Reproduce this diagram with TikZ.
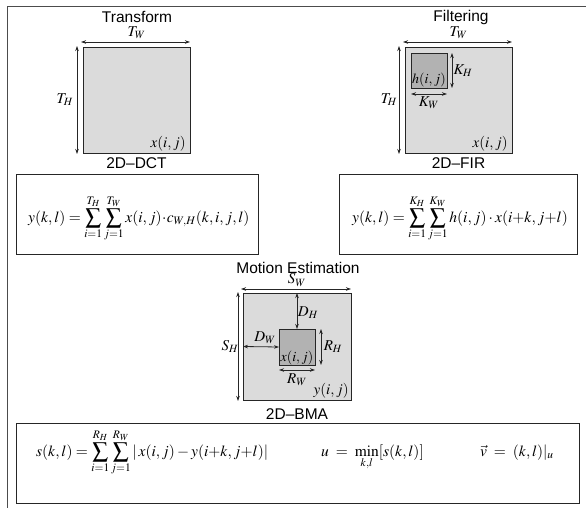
\documentclass[tikz,border=0pt]{standalone}
\usepackage{mathptmx}
\usepackage[no-math]{fontspec}
\setmainfont{Liberation Sans}
\usetikzlibrary{arrows.meta}

\begin{document}
\begin{tikzpicture}[x=1pt,y=-1pt,
  outer/.style={draw=black!70, line width=1pt},
  blk/.style={draw=black!85, fill=black!14, line width=0.8pt, inner sep=0pt, outer sep=0pt},
  subblk/.style={draw=black!85, fill=black!30, line width=0.8pt, inner sep=0pt, outer sep=0pt},
  dim/.style={{Stealth[length=5pt,width=3.5pt]}-{Stealth[length=5pt,width=3.5pt]}, line width=0.8pt, black!85},
  ttl/.style={font=\fontsize{15.5}{18}\selectfont, inner sep=0pt},
  lbl/.style={font=\fontsize{15}{18}\selectfont, inner sep=0pt},
  inlbl/.style={font=\fontsize{14}{16}\selectfont, inner sep=0pt},
  eqbox/.style={draw=black!85, line width=0.8pt},
  eq/.style={inner sep=0pt, font=\fontsize{15.5}{18}\selectfont}
]
\useasboundingbox (0,0) rectangle (586,508);

% frame
\coordinate (fbl) at (7,508);
\coordinate (ftl) at (7,7);
\coordinate (ftr) at (586,7);
\draw[outer] (fbl) -- (ftl) -- (ftr);

% ---------------- Transform ----------------
\node[ttl] (ttlA) at (137,17) {Transform};
\node[blk, minimum width=107pt, minimum height=106pt] (sqA) at (136.5,100) {};
\coordinate (twA1) at ([xshift=-2pt,yshift=5pt]sqA.north west);
\coordinate (twA2) at ([yshift=5pt]sqA.north east);
\draw[dim] (twA1) -- (twA2);
\node[lbl] (lTwA) at ([yshift=14pt]sqA.north) {$T_W$};
\coordinate (thA1) at ([xshift=-6pt,yshift=1pt]sqA.north west);
\coordinate (thA2) at ([xshift=-6pt,yshift=-1pt]sqA.south west);
\draw[dim] (thA1) -- (thA2);
\node[lbl] (lThA) at ([xshift=-18pt]sqA.west) {$T_H$};
\node[lbl, anchor=base east] (xA) at ([xshift=-4pt,yshift=6pt]sqA.south east) {$x(i,j)$};
\node[ttl] (capA) at ([yshift=-10pt]sqA.south) {2D–DCT};
\coordinate (eqAtl) at (16,174);
\coordinate (eqAbr) at (258,254);
\draw[eqbox] (eqAtl) rectangle (eqAbr);
\node[eq, anchor=base west] (fA) at (28,222)
  {$\displaystyle y(k,l) =\sum_{i=1}^{T_H}\sum_{j=1}^{T_W} x(i,j)\!\cdot\! c_{W,H}(k,i,j,l)$};

% ---------------- Filtering ----------------
\node[ttl] (ttlB) at (461,17) {Filtering};
\node[blk, minimum width=107pt, minimum height=106pt] (sqB) at (458.5,100) {};
\coordinate (twB1) at ([xshift=-2pt,yshift=5pt]sqB.north west);
\coordinate (twB2) at ([yshift=5pt]sqB.north east);
\draw[dim] (twB1) -- (twB2);
\node[lbl] (lTwB) at ([yshift=14pt]sqB.north) {$T_W$};
\coordinate (thB1) at ([xshift=-6pt,yshift=1pt]sqB.north west);
\coordinate (thB2) at ([xshift=-6pt,yshift=-1pt]sqB.south west);
\draw[dim] (thB1) -- (thB2);
\node[lbl] (lThB) at ([xshift=-16pt]sqB.west) {$T_H$};
\node[lbl, anchor=base east] (xB) at ([xshift=-4pt,yshift=6pt]sqB.south east) {$x(i,j)$};
\node[ttl] (capB) at ([yshift=-10pt]sqB.south) {2D–FIR};
\node[subblk, minimum width=36pt, minimum height=35pt] (hB) at (429,70.5) {};
\node[inlbl, anchor=base] (hBt) at ([yshift=4pt]hB.south) {$h(i,j)$};
\coordinate (khB1) at ([xshift=5pt]hB.north east);
\coordinate (khB2) at ([xshift=5pt]hB.south east);
\draw[dim] (khB1) -- (khB2);
\node[lbl] (lKhB) at ([xshift=16pt]hB.east) {$K_H$};
\coordinate (kwB1) at ([yshift=-6pt]hB.south west);
\coordinate (kwB2) at ([yshift=-6pt]hB.south east);
\draw[dim] (kwB1) -- (kwB2);
\node[lbl] (lKwB) at ([yshift=-15pt]hB.south) {$K_W$};
\coordinate (eqBtl) at (339,174);
\coordinate (eqBbr) at (577,254);
\draw[eqbox] (eqBtl) rectangle (eqBbr);
\node[eq, anchor=base west] (fB) at (352,222)
  {$\displaystyle y(k,l) =\sum_{i=1}^{K_H}\sum_{j=1}^{K_W} h(i,j)\cdot x(i{+}k,j{+}l)$};

% ---------------- Motion Estimation ----------------
\node[ttl] (ttlC) at (298,268) {Motion Estimation};
\node[blk, minimum width=108pt, minimum height=107pt] (sqC) at (297,346.5) {};
\coordinate (swC1) at ([xshift=-2pt,yshift=4pt]sqC.north west);
\coordinate (swC2) at ([yshift=4pt]sqC.north east);
\draw[dim] (swC1) -- (swC2);
\node[lbl] (lSwC) at ([yshift=13pt]sqC.north) {$S_W$};
\coordinate (shC1) at ([xshift=-5pt,yshift=1pt]sqC.north west);
\coordinate (shC2) at ([xshift=-5pt,yshift=-1pt]sqC.south west);
\draw[dim] (shC1) -- (shC2);
\node[lbl] (lShC) at ([xshift=-13pt]sqC.west) {$S_H$};
\node[lbl, anchor=base east] (yC) at ([xshift=-2pt,yshift=6pt]sqC.south east) {$y(i,j)$};
\node[ttl] (capC) at ([yshift=-14pt]sqC.south) {2D–BMA};
\node[subblk, minimum width=36pt, minimum height=36pt] (rC) at (297,347) {};
\node[inlbl, anchor=base] (xC) at ([yshift=4pt]rC.south) {$x(i,j)$};
% displacement of the reference block
\coordinate (dhC1) at (sqC.north -| rC.center);
\coordinate (dhC2) at (rC.north);
\draw[dim] (dhC1) -- (dhC2);
\node[lbl] (tDhC) at (308,313) {$D_H$};
\coordinate (dwC1) at (sqC.west);
\coordinate (dwC2) at (rC.west);
\draw[dim] (dwC1) -- (dwC2);
\node[lbl] (tDwC) at (265,338) {$D_W$};
\coordinate (rhC1) at ([xshift=6pt]rC.north east);
\coordinate (rhC2) at ([xshift=6pt]rC.south east);
\draw[dim] (rhC1) -- (rhC2);
\node[lbl] (tRhC) at ([xshift=18pt]rC.east) {$R_H$};
\coordinate (rwC1) at ([yshift=-5pt]rC.south west);
\coordinate (rwC2) at ([yshift=-5pt]rC.south east);
\draw[dim] (rwC1) -- (rwC2);
\node[lbl] (tRwC) at ([yshift=-15pt]rC.south) {$R_W$};

% ---------------- SAD / motion vector ----------------
\coordinate (eqCtl) at (16,423);
\coordinate (eqCbr) at (579,503);
\draw[eqbox] (eqCtl) rectangle (eqCbr);
\node[eq, anchor=base west] (sadC) at (36,456)
  {$\displaystyle s(k,l) =\sum_{i=1}^{R_H}\sum_{j=1}^{R_W}|\,x(i,j) -y(i{+}k,j{+}l)|$};
\node[eq, anchor=base west] (minC) at (321,456)
  {$\displaystyle u \;=\; \min_{k,l}[s(k,l)]$};
\node[eq, anchor=base west] (mvC) at (480,456)
  {$\displaystyle \vec{v} \;=\; (k,l)|_u$};
\end{tikzpicture}
\end{document}
